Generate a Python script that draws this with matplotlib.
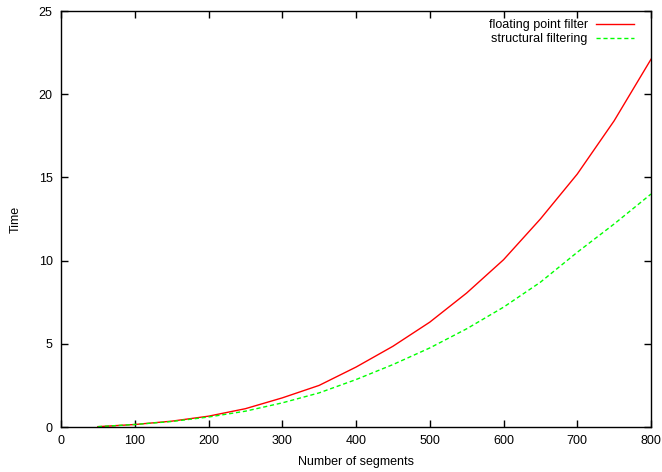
import matplotlib
matplotlib.use('Agg')
import matplotlib.pyplot as plt

segments = [50, 100, 150, 200, 250, 300, 350, 400, 450, 500, 550, 600, 650, 700, 750, 800]
fp_filter = [0.02, 0.15, 0.35, 0.65, 1.1, 1.75, 2.5, 3.6, 4.85, 6.3, 8.05, 10.05, 12.5, 15.2, 18.4, 22.1]
struct_filter = [0.02, 0.15, 0.33, 0.6, 0.95, 1.45, 2.05, 2.85, 3.75, 4.75, 5.9, 7.2, 8.7, 10.5, 12.2, 14.0]

plt.rcParams['font.family'] = ['Liberation Sans', 'DejaVu Sans']
plt.rcParams['font.size'] = 9

fig = plt.figure(figsize=(6.62, 4.72), dpi=100)
ax = fig.add_axes([61 / 662, 45 / 472, 590 / 662, 416 / 472])

ax.plot(segments, fp_filter, color='#ff0000', lw=1, label='floating point filter')
ax.plot(segments, struct_filter, color='#00ff00', lw=1, ls=(0, (3, 2)), label='structural filtering')

ax.set_xlim(0, 800)
ax.set_ylim(0, 25)
ax.set_xticks(range(0, 801, 100))
ax.set_yticks(range(0, 26, 5))
ax.tick_params(direction='in', top=True, right=True, length=5, width=1, pad=6)
for s in ax.spines.values():
    s.set_linewidth(1)

ax.set_xlabel('Number of segments', labelpad=6)
ax.set_ylabel('Time', labelpad=12)

ax.legend(loc='upper right', bbox_to_anchor=(0.971, 0.98), frameon=False, markerfirst=False,
          handlelength=3.0, handletextpad=0.7, labelspacing=0.15, borderaxespad=0,
          borderpad=0, fontsize=9)

fig.savefig('out.png', dpi=100)
